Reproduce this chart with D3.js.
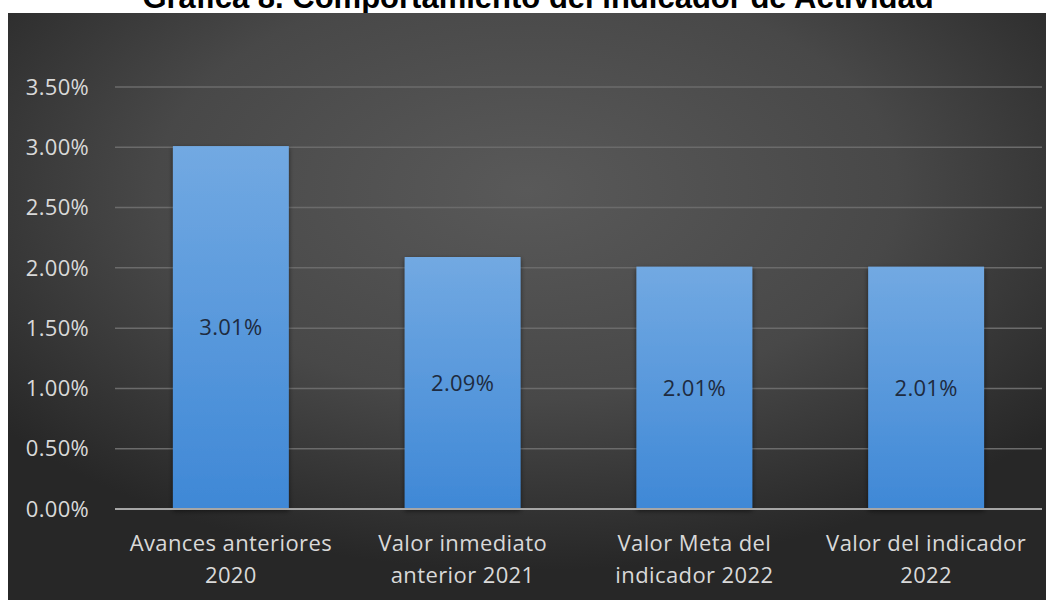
<!DOCTYPE html>
<html>
<head>
<meta charset="utf-8">
<script src="https://cdn.jsdelivr.net/npm/d3@7"></script>
<style>
  body { margin: 0; background: #fff; }
  svg { display: block; }
</style>
</head>
<body>
<svg id="chart" width="1053" height="600"></svg>
<script>
// chart data
var categories = [
    ["Avances anteriores", "2020"],
    ["Valor inmediato", "anterior 2021"],
    ["Valor Meta del", "indicador 2022"],
    ["Valor del indicador", "2022"]
];
var values = [0.0301, 0.0209, 0.0201, 0.0201];
var yTicks = [0, 0.005, 0.01, 0.015, 0.02, 0.025, 0.03, 0.035];
var title = "Gráfica 8. Comportamiento del indicador de Actividad";

var svg = d3.select("#chart");
var width = +svg.attr("width"),
    height = +svg.attr("height");

var plot = { left: 115, right: 1042, top: 87, bottom: 509 };

var defs = svg.append("defs");

// dark radial background like the excel style
var bg = defs.append("radialGradient")
    .attr("id", "bgGrad")
    .attr("cx", "50%").attr("cy", "30%")
    .attr("r", "65%");
bg.append("stop").attr("offset", "0%").attr("stop-color", "#595959");
bg.append("stop").attr("offset", "55%").attr("stop-color", "#484848");
bg.append("stop").attr("offset", "100%").attr("stop-color", "#272727");

var barGrad = defs.append("linearGradient")
    .attr("id", "barGrad")
    .attr("x1", 0).attr("y1", 0).attr("x2", 0).attr("y2", 1);
barGrad.append("stop").attr("offset", "0%").attr("stop-color", "#72a9e2");
barGrad.append("stop").attr("offset", "100%").attr("stop-color", "#3f88d6");

var shadow = defs.append("filter").attr("id", "shadow")
    .attr("x", "-20%").attr("y", "-20%").attr("width", "140%").attr("height", "140%");
shadow.append("feDropShadow")
    .attr("dx", 0).attr("dy", 2).attr("stdDeviation", 2.5)
    .attr("flood-color", "#000").attr("flood-opacity", 0.55);

// title (cut off at the top like the picture)
svg.append("text")
    .attr("x", 538)
    .attr("y", 8)
    .attr("text-anchor", "middle")
    .attr("font-family", "Liberation Sans, Arial, sans-serif")
    .attr("font-weight", "bold")
    .attr("font-size", 31)
    .attr("fill", "#000")
    .text(title);

svg.append("rect")
    .attr("x", 8).attr("y", 13)
    .attr("width", 1038).attr("height", height - 13)
    .attr("fill", "url(#bgGrad)");

var x = d3.scaleBand()
    .domain(categories.map(function(d) { return d.join(" "); }))
    .range([plot.left, plot.right])
    .paddingInner(0.5)
    .paddingOuter(0.25);

var y = d3.scaleLinear()
    .domain([0, 0.035])
    .range([plot.bottom, plot.top]);

// gridlines
svg.append("g")
    .selectAll("line")
    .data(yTicks.filter(function(d) { return d > 0; }))
    .enter().append("line")
    .attr("x1", plot.left).attr("x2", plot.right)
    .attr("y1", function(d) { return y(d); })
    .attr("y2", function(d) { return y(d); })
    .attr("stroke", "#6b6b6b")
    .attr("stroke-width", 1.5);

// tick labels
svg.append("g")
    .selectAll("text")
    .data(yTicks)
    .enter().append("text")
    .attr("x", 89)
    .attr("y", function(d) { return y(d); })
    .attr("dy", "0.35em")
    .attr("text-anchor", "end")
    .attr("font-family", "Open Sans, sans-serif")
    .attr("font-size", 22)
    .attr("letter-spacing", 0.3)
    .attr("fill", "#d9d9d9")
    .text(function(d) { return d3.format(".2%")(d); });

// bars
svg.append("g")
    .selectAll("rect")
    .data(values)
    .enter().append("rect")
    .attr("x", function(d, i) { return x(categories[i].join(" ")); })
    .attr("y", function(d) { return y(d); })
    .attr("width", x.bandwidth())
    .attr("height", function(d) { return y(0) - y(d); })
    .attr("fill", "url(#barGrad)")
    .attr("filter", "url(#shadow)");

// axis line
svg.append("line")
    .attr("x1", plot.left).attr("x2", plot.right)
    .attr("y1", y(0)).attr("y2", y(0))
    .attr("stroke", "#a6a6a6")
    .attr("stroke-width", 2);

// data labels in the middle of each bar
svg.append("g")
    .selectAll("text")
    .data(values)
    .enter().append("text")
    .attr("x", function(d, i) { return x(categories[i].join(" ")) + x.bandwidth() / 2; })
    .attr("y", function(d) { return (y(d) + y(0)) / 2; })
    .attr("dy", "0.35em")
    .attr("text-anchor", "middle")
    .attr("font-family", "Open Sans, sans-serif")
    .attr("font-size", 22)
    .attr("letter-spacing", 0.3)
    .attr("fill", "#1e2b40")
    .text(function(d) { return d3.format(".2%")(d); });

// category labels, two lines each
var cat = svg.append("g")
    .selectAll("text")
    .data(categories)
    .enter().append("text")
    .attr("text-anchor", "middle")
    .attr("font-family", "Open Sans, sans-serif")
    .attr("font-size", 22)
    .attr("letter-spacing", 0.4)
    .attr("fill", "#d9d9d9");

cat.selectAll("tspan")
    .data(function(d) { return d.map(function(line) { return { line: line, key: d.join(" ") }; }); })
    .enter().append("tspan")
    .attr("x", function(d) { return x(d.key) + x.bandwidth() / 2; })
    .attr("y", function(d, i) { return 543 + i * 32; })
    .attr("dy", "0.35em")
    .text(function(d) { return d.line; });
</script>
</body>
</html>
